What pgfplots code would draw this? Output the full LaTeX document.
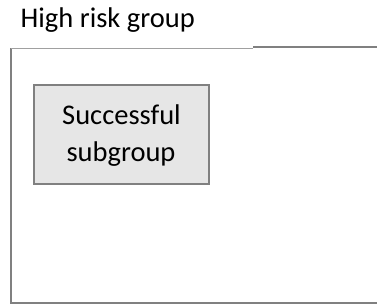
\documentclass[border=0pt]{standalone}
\usepackage{pgfplots}
\pgfplotsset{compat=1.18}
\usepackage{fontspec}
\setmainfont{Carlito}
\definecolor{frame}{RGB}{128,128,128}
\definecolor{lightframe}{RGB}{160,160,160}
\definecolor{boxfill}{RGB}{230,230,230}
\begin{document}
\begin{tikzpicture}
\begin{axis}[
  width=377bp, height=305bp, scale only axis,
  xmin=0, xmax=377, ymin=0, ymax=305,
  hide axis, clip=true,
]
\coordinate (sw) at (rel axis cs:0,0);
\coordinate (ne) at (rel axis cs:1,1);
% outer frame: left and bottom
\addplot[draw=frame, line width=2bp] coordinates {(11,256.5) (11,2) (380,2)};
% top edge, left part (thin, lighter)
\addplot[draw=lightframe, line width=1.2bp] coordinates {(11,256.5) (253,256.5)};
% top edge, right part (thicker, darker)
\addplot[draw=frame, line width=2.5bp] coordinates {(253,258) (380,258)};
% inner box
\addplot[draw=frame, fill=boxfill, line width=2bp] coordinates {(34,121) (209,121) (209,220) (34,220)} -- cycle;
\node[anchor=base west, inner sep=0pt, font=\fontsize{28.5bp}{35bp}\selectfont] at (axis cs:20.5,277) {High risk group};
\node[anchor=base, inner sep=0pt, font=\fontsize{28.5bp}{35bp}\selectfont] at (axis cs:121.5,180) {Successful};
\node[anchor=base, inner sep=0pt, font=\fontsize{28.5bp}{35bp}\selectfont] at (axis cs:121,143.5) {subgroup};
\end{axis}
\pgfresetboundingbox
\path (sw) rectangle (ne);
\end{tikzpicture}
\end{document}
